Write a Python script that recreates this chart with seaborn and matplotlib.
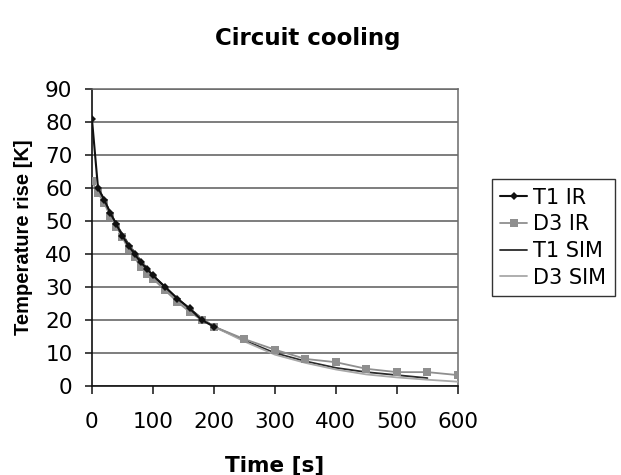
import numpy as np
import pandas as pd
import matplotlib
matplotlib.use("Agg")
import matplotlib.pyplot as plt
import seaborn as sns

# measured IR data
t1_ir_time = [0, 10, 20, 30, 40, 50, 60, 70, 80, 90, 100, 120, 140, 160, 180, 200]
t1_ir_temp = [81, 60, 56.5, 52.5, 49, 45.5, 42.5, 40, 37.5, 35.5, 33.5, 30, 26.5, 23.5, 20, 18]

d3_ir_time = [0, 10, 20, 30, 40, 50, 60, 70, 80, 90, 100, 120, 140, 160, 180, 200,
              250, 300, 350, 400, 450, 500, 550, 600]
d3_ir_temp = [62, 58.5, 55.5, 51.5, 48.3, 45, 41.5, 39, 36, 34, 32.5, 29, 25.5, 22.5, 20, 18,
              14.2, 11, 8.2, 7.2, 5.2, 4.2, 4.2, 3.3]

# simulation curves
t1_sim_time = [10, 20, 30, 40, 50, 60, 80, 100, 120, 140, 160, 180, 200, 250, 300, 350, 400,
               450, 500, 550]
t1_sim_temp = [60, 56.5, 52.5, 49, 46, 43, 38, 33.5, 30, 26.5, 23.5, 20.5, 18, 13.8, 10, 7.5,
               5.5, 4.2, 3.3, 2.4]

d3_sim_time = [10, 20, 30, 40, 50, 60, 80, 100, 120, 140, 160, 180, 200, 250, 300, 350, 400,
               450, 500, 550, 600]
d3_sim_temp = [60, 56, 52, 48.5, 45.5, 42.5, 37.5, 33, 29, 26, 23, 20.5, 18, 13.5, 9.5, 7,
               5, 3.5, 2.6, 1.9, 1.3]

sns.set_style("white")
plt.rcParams['font.family'] = ['DejaVu Sans']
plt.rcParams['text.color'] = 'black'
plt.rcParams['xtick.color'] = 'black'
plt.rcParams['ytick.color'] = 'black'
plt.rcParams['axes.labelcolor'] = 'black'

fig = plt.figure(figsize=(6.21, 4.75), dpi=100)
ax = fig.add_axes([0.148, 0.1874, 0.5894, 0.6253])

fs = 15.5

sns.lineplot(x=t1_sim_time, y=t1_sim_temp, ax=ax, color="#2a2a2a", lw=1.3, label="T1 SIM", zorder=3)
sns.lineplot(x=d3_sim_time, y=d3_sim_temp, ax=ax, color="#a8a8a8", lw=1.3, label="D3 SIM", zorder=3)
sns.lineplot(x=d3_ir_time, y=d3_ir_temp, ax=ax, color="#8f8f8f", lw=1.3, marker="s",
             markersize=6, markeredgewidth=0, label="D3 IR", zorder=4)
sns.lineplot(x=t1_ir_time, y=t1_ir_temp, ax=ax, color="#111111", lw=1.5, marker="D",
             markersize=4.5, markeredgewidth=0, label="T1 IR", zorder=5)

ax.set_xlim(0, 600)
ax.set_ylim(0, 90)
ax.set_xticks(range(0, 601, 100))
ax.set_yticks(range(0, 91, 10))
ax.yaxis.grid(True, color="#5a5a5a", lw=1.1)
ax.xaxis.grid(False)
ax.set_axisbelow(True)

for side in ["top", "right"]:
    ax.spines[side].set_color("#6a6a6a")
    ax.spines[side].set_linewidth(1.1)
for side in ["left", "bottom"]:
    ax.spines[side].set_color("#111111")
    ax.spines[side].set_linewidth(1.2)

ax.tick_params(axis="x", direction="out", length=6, width=1.1, color="#111111",
               labelsize=fs, pad=13, bottom=True)
ax.tick_params(axis="y", direction="out", length=5, width=1.1, color="#111111",
               labelsize=fs, pad=9, left=True)

ax.set_xlabel("Time [s]", fontsize=fs, fontweight="bold")
ax.xaxis.set_label_coords(0.5, -0.235)
ax.set_ylabel("Temperature rise [K]", fontsize=14.5, fontweight="bold",
              family=["Liberation Sans", "DejaVu Sans"])
ax.yaxis.set_label_coords(-0.16, 0.5)

fig.text(0.495, 0.92, "Circuit cooling", ha="center", va="center",
         fontsize=16.5, fontweight="bold")

handles, labels = ax.get_legend_handles_labels()
order = ["T1 IR", "D3 IR", "T1 SIM", "D3 SIM"]
hmap = dict(zip(labels, handles))
ax.legend([hmap[k] for k in order], order, loc="center left",
          bbox_to_anchor=(0.792, 0.50), bbox_transform=fig.transFigure,
          fontsize=15, frameon=True, fancybox=False, edgecolor="#333333",
          framealpha=1, handlelength=1.3, handletextpad=0.3, labelspacing=0.32,
          borderpad=0.4, borderaxespad=0)
ax.get_legend().get_frame().set_linewidth(1.0)

fig.savefig("out.png", dpi=100)
